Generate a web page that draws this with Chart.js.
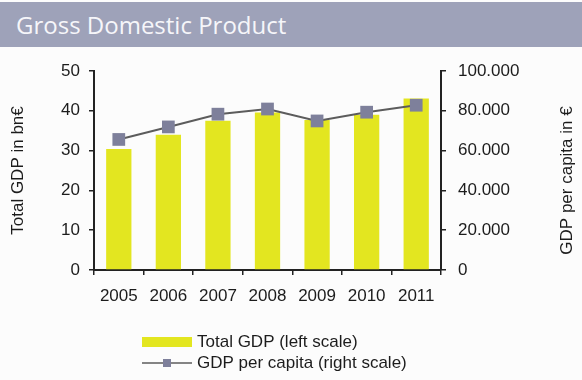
<!DOCTYPE html>
<html>
<head>
<meta charset="utf-8">
<script src="https://cdn.jsdelivr.net/npm/chart.js@4.4.1/dist/chart.umd.min.js"></script>
<style>
  html, body { margin: 0; padding: 0; background: #fcfcfc; }
  #wrap { position: relative; width: 582px; height: 380px; overflow: hidden; }
  #banner {
    position: absolute; left: 0; top: 2px; width: 582px; height: 45px;
    background: #9ea2b9; color: #f6f6fa;
    font-family: "Open Sans", sans-serif; font-size: 24px;
    line-height: 45px; padding-left: 16px; box-sizing: border-box; z-index: 2;
  }
  canvas { position: absolute; left: 0; top: 0; }
</style>
</head>
<body>
<div id="wrap">
  <div id="banner">Gross Domestic Product</div>
  <canvas id="c" width="582" height="380"></canvas>
</div>
<script>
// GDP figures by year
const years = ['2005', '2006', '2007', '2008', '2009', '2010', '2011'];
const totalGdp = [30.4, 34.0, 37.5, 39.6, 37.7, 39.0, 43.1];          // bn €
const gdpPerCapita = [65600, 71900, 78300, 80900, 74900, 79300, 82800]; // €
const rightTickLabels = ['0', '20.000', '40.000', '60.000', '80.000', '100.000'];

const seriesNames = ['Total GDP (left scale)', 'GDP per capita (right scale)'];
const leftTitle = 'Total GDP in bn€';
const rightTitle = 'GDP per capita in €';

const FONT = '"Liberation Sans", Arial, sans-serif';
const INK = '#1c1c1c';
const BAR = '#e3e620';
const LINE = '#5c5c5c';
const MARK = '#7e809b';

// Legend stacked in two rows plus the upward-reading right axis title
const extras = {
  id: 'extras',
  afterDraw(chart) {
    const ctx = chart.ctx;
    const ds = chart.data.datasets;
    ctx.save();
    ctx.font = '17px ' + FONT;
    ctx.fillStyle = INK;
    ctx.textBaseline = 'middle';
    ctx.textAlign = 'left';
    // bar entry
    ctx.fillStyle = ds[0].backgroundColor;
    ctx.fillRect(142, 337, 50, 10);
    ctx.fillStyle = INK;
    ctx.fillText(ds[0].label, 197, 342);
    // line entry
    ctx.strokeStyle = ds[1].borderColor;
    ctx.lineWidth = 1.5;
    ctx.beginPath(); ctx.moveTo(142, 363); ctx.lineTo(192, 363); ctx.stroke();
    ctx.fillStyle = ds[1].pointBackgroundColor;
    ctx.fillRect(163, 359, 8, 8);
    ctx.fillStyle = INK;
    ctx.fillText(ds[1].label, 197, 363);
    // right axis title
    const yr = chart.scales.yRight;
    ctx.translate(567, (yr.top + yr.bottom) / 2 + 10);
    ctx.rotate(-Math.PI / 2);
    ctx.textAlign = 'center';
    ctx.fillText(rightTitle, 0, 0);
    ctx.restore();
  }
};

const axisGrid = { drawOnChartArea: false, drawTicks: true, tickLength: 5, color: '#222', lineWidth: 1.5 };
const axisBorder = { display: true, color: '#222', width: 2 };

new Chart(document.getElementById('c'), {
  data: {
    labels: years,
    datasets: [
      {
        type: 'bar', label: seriesNames[0], data: totalGdp, yAxisID: 'yLeft',
        backgroundColor: BAR, borderWidth: 0, barPercentage: 0.51, categoryPercentage: 1, order: 2
      },
      {
        type: 'line', label: seriesNames[1], data: gdpPerCapita, yAxisID: 'yRight',
        borderColor: LINE, borderWidth: 2, tension: 0,
        pointStyle: 'rect', pointRadius: 9, pointHoverRadius: 9,
        pointBackgroundColor: MARK, pointBorderColor: MARK, pointBorderWidth: 0, order: 1
      }
    ]
  },
  options: {
    responsive: false,
    animation: false,
    layout: { padding: { top: 71, left: 0, right: 0, bottom: 65 } },
    plugins: { legend: { display: false }, tooltip: { enabled: false } },
    scales: {
      x: {
        grid: { ...axisGrid, offset: true }, border: axisBorder,
        ticks: { color: INK, font: { family: FONT, size: 17 }, padding: 11, maxRotation: 0 },
        afterFit(s) { s.height = 45; }
      },
      yLeft: {
        position: 'left', min: 0, max: 50,
        grid: axisGrid, border: axisBorder,
        ticks: { stepSize: 10, color: INK, font: { family: FONT, size: 17 }, padding: 9 },
        title: { display: true, text: leftTitle, color: INK, font: { family: FONT, size: 17 }, padding: { top: 8 } },
        afterFit(s) { s.width = 94; }
      },
      yRight: {
        position: 'right', min: 0, max: 100000,
        grid: axisGrid, border: axisBorder,
        ticks: {
          stepSize: 20000, color: INK, font: { family: FONT, size: 17 }, padding: 12,
          callback: (v, i) => rightTickLabels[i]
        },
        afterFit(s) { s.width = 141; }
      }
    }
  },
  plugins: [extras]
});
</script>
</body>
</html>
